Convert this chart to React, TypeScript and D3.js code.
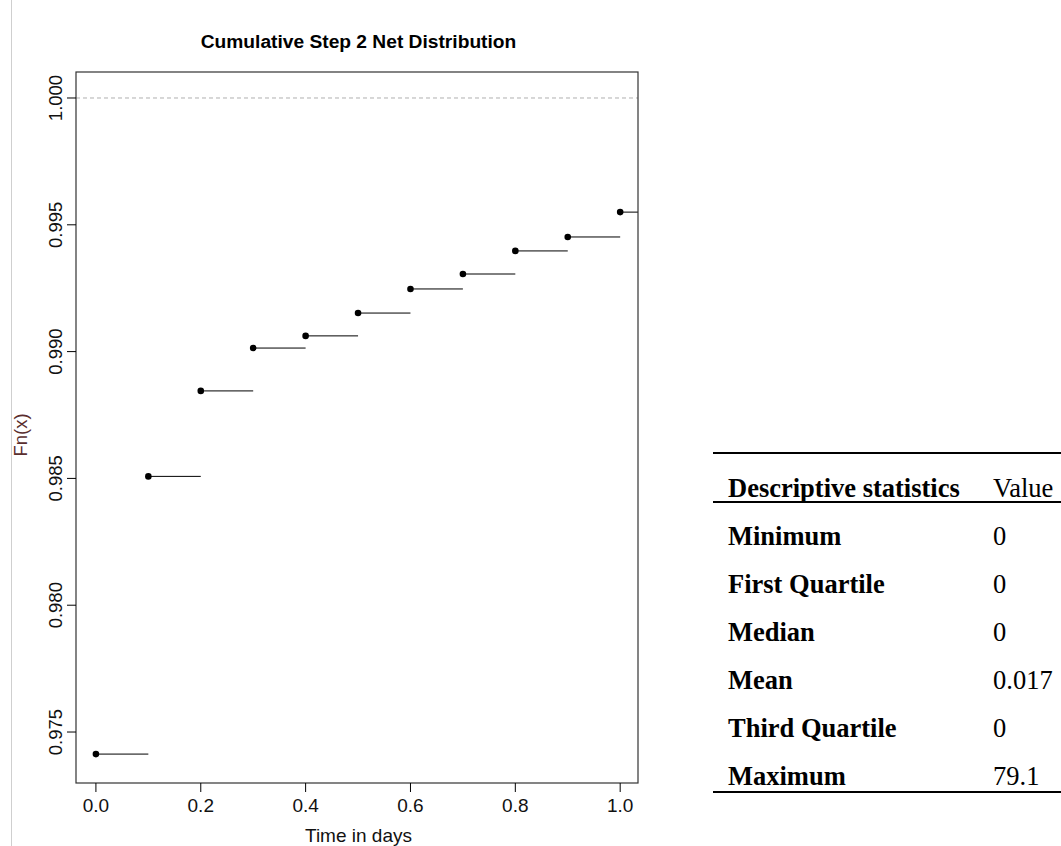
import React from "react";
import * as d3 from "d3";

const stepX = [0, 0.1, 0.2, 0.3, 0.4, 0.5, 0.6, 0.7, 0.8, 0.9, 1.0];
const stepY = [0.97413, 0.98508, 0.98845, 0.99014, 0.99062, 0.99152, 0.99247, 0.99306, 0.99397, 0.99452, 0.9955];
const xTicks = [0, 0.2, 0.4, 0.6, 0.8, 1.0];
const yTicks = [0.975, 0.98, 0.985, 0.99, 0.995, 1.0];
const statNames = ["Minimum", "First Quartile", "Median", "Mean", "Third Quartile", "Maximum"];
const statValues = ["0", "0", "0", "0.017", "0", "79.1"];

const W = 1061, H = 846;
const box = { left: 76, right: 638, top: 72, bottom: 783 };

export default function App() {
  const x = d3.scaleLinear().domain([-0.038, 1.034]).range([box.left, box.right]);
  const y = d3.scaleLinear().domain([0.97299, 1.001025]).range([box.bottom, box.top]);
  const sans = "Liberation Sans, Arial, sans-serif";
  const serif = "Liberation Serif, Times New Roman, serif";
  const tableLeft = 713, tableRight = 1061;
  const rowY = (i: number) => 545 + i * 48;
  return (
    <svg width={W} height={H} style={{ position: "absolute", left: 0, top: 0, background: "#fff" }}>
      <line x1={11.5} x2={11.5} y1={0} y2={H} stroke="#cfcfcf" strokeWidth={1} />
      <text x={358.5} y={48} textAnchor="middle" fontFamily={sans} fontWeight="bold" fontSize={19.2} fill="#000">
        Cumulative Step 2 Net Distribution
      </text>
      {/* reference line */}
      <line x1={box.left} x2={box.right} y1={y(1)} y2={y(1)} stroke="#b0b0b0" strokeDasharray="4,3" strokeWidth={1} />
      {/* steps */}
      {stepX.map((sx, i) => {
        const x2 = i < stepX.length - 1 ? x(stepX[i + 1]) : box.right;
        return (
          <g key={i}>
            <line x1={x(sx)} x2={x2} y1={y(stepY[i])} y2={y(stepY[i])} stroke="#000" strokeWidth={1} />
            <circle cx={x(sx)} cy={y(stepY[i])} r={3.3} fill="#000" />
          </g>
        );
      })}
      {/* box */}
      <rect x={box.left} y={box.top} width={box.right - box.left} height={box.bottom - box.top} fill="none" stroke="#333" strokeWidth={1.2} />
      {/* x axis */}
      {xTicks.map((t) => (
        <g key={t}>
          <line x1={x(t)} x2={x(t)} y1={box.bottom} y2={box.bottom + 9} stroke="#000" />
          <text x={x(t)} y={812} textAnchor="middle" fontFamily={sans} fontSize={19} fill="#111">
            {d3.format(".1f")(t)}
          </text>
        </g>
      ))}
      <text x={358.5} y={842} textAnchor="middle" fontFamily={sans} fontSize={19} fill="#111">
        Time in days
      </text>
      {/* y axis */}
      {yTicks.map((t) => (
        <g key={t}>
          <line x1={box.left - 9} x2={box.left} y1={y(t)} y2={y(t)} stroke="#000" />
          <text
            transform={`translate(62,${y(t)}) rotate(-90)`}
            textAnchor="middle"
            fontFamily={sans}
            fontSize={18.5}
            fill="#111"
          >
            {d3.format(".3f")(t)}
          </text>
        </g>
      ))}
      <text transform={`translate(27,435) rotate(-90)`} textAnchor="middle" fontFamily={sans} fontSize={18.5} fill="#5a2e2e">
        Fn(x)
      </text>
      {/* table */}
      <line x1={tableLeft} x2={tableRight} y1={453} y2={453} stroke="#000" strokeWidth={2} />
      <text x={728} y={497} fontFamily={serif} fontWeight="bold" fontSize={26.5} fill="#000">
        Descriptive statistics
      </text>
      <text x={993} y={497} fontFamily={serif} fontSize={26.5} fill="#000">
        Value
      </text>
      <line x1={tableLeft} x2={tableRight} y1={502} y2={502} stroke="#000" strokeWidth={2} />
      {statNames.map((n, i) => (
        <g key={n}>
          <text x={728} y={rowY(i)} fontFamily={serif} fontWeight="bold" fontSize={26.5} fill="#000">
            {n}
          </text>
          <text x={993} y={rowY(i)} fontFamily={serif} fontSize={26.5} fill="#000">
            {statValues[i]}
          </text>
        </g>
      ))}
      <line x1={tableLeft} x2={tableRight} y1={792} y2={792} stroke="#000" strokeWidth={2} />
    </svg>
  );
}
